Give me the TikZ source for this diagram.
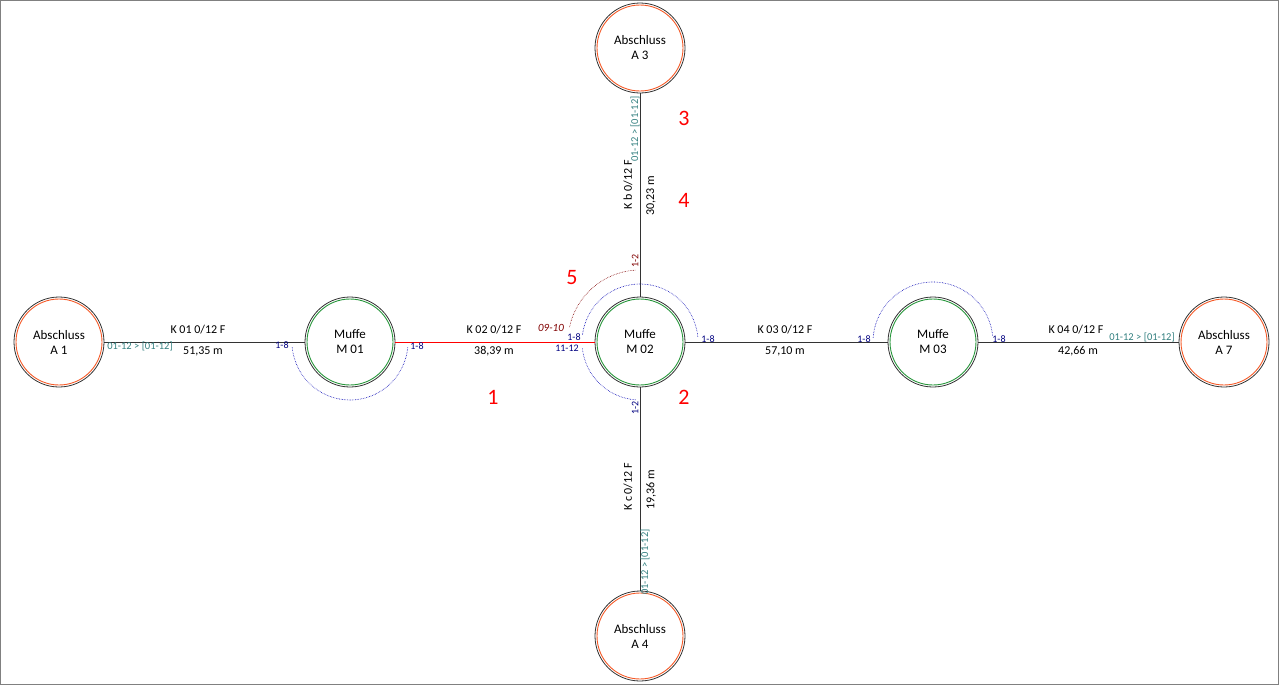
\documentclass[tikz,border=0pt]{standalone}
\usepackage{fontspec}
\setmainfont{Carlito}
\definecolor{absc}{RGB}{245,90,40}
\definecolor{muffc}{RGB}{40,150,60}
\begin{document}
\begin{tikzpicture}[x=1pt,y=1pt,
  term/.style={circle,draw=black!80,line width=0.8pt,minimum size=90pt,inner sep=0pt,align=center,font=\fontsize{13}{15}\selectfont,
    append after command={\pgfextra{\draw[absc,line width=0.9pt] (\tikzlastnode.center) circle (43);}}},
  muffe/.style={circle,draw=black!80,line width=0.8pt,minimum size=90pt,inner sep=0pt,align=center,font=\fontsize{13}{15}\selectfont,
    append after command={\pgfextra{\draw[muffc,line width=0.9pt] (\tikzlastnode.center) circle (43);}}},
  cab/.style={draw=black!80,line width=0.8pt},
  lab/.style={font=\fontsize{12}{14}\selectfont,inner sep=0pt},
  port/.style={font=\fontsize{10}{11}\selectfont,inner sep=0pt,text=blue!50!black},
  conn/.style={font=\fontsize{10.5}{12}\selectfont,inner sep=0pt,text=teal!60!gray},
  splice/.style={draw=blue!70!black,densely dotted,line width=0.6pt},
  rsplice/.style={draw=red!50!black,densely dotted,line width=0.6pt},
  num/.style={font=\fontsize{22}{24}\selectfont,text=red,inner sep=0pt}]
\path[use as bounding box] (0,0) rectangle (1282,-686);
\draw[black!50,line width=1pt] (0.5,-0.5) rectangle (1278,-684);
\node[term] (A1) at (59,-342) {Abschluss\\A 1};
\node[muffe] (M1) at (350,-342) {Muffe\\M 01};
\node[muffe] (M2) at (640,-342) {Muffe\\M 02};
\node[muffe] (M3) at (933,-342) {Muffe\\M 03};
\node[term] (A7) at (1224,-342) {Abschluss\\A 7};
\node[term] (A3) at (640,-48) {Abschluss\\A 3};
\node[term] (A4) at (640,-636) {Abschluss\\A 4};
\draw[cab] (A1) -- (M1);
\draw[red,line width=0.9pt] (M1) -- (M2);
\draw[cab] (M2) -- (M3);
\draw[cab] (M3) -- (A7);
\draw[cab] (A3) -- (M2);
\draw[cab] (M2) -- (A4);
% splices
\draw[splice] (M1.center) ++(185:58) arc[start angle=185,end angle=355,radius=58];
\draw[splice] (M2.center) ++(5:58) arc[start angle=5,end angle=173,radius=58];
\draw[splice] (M2.center) ++(186:58) arc[start angle=186,end angle=266,radius=58];
\draw[rsplice] (M2.center) ++(168:72) arc[start angle=168,end angle=93,radius=72];
\draw[splice] (M3.center) ++(176:60) arc[start angle=176,end angle=5,radius=60];
% labels
\node[lab] (l1) at (198,-330) {K 01 0/12 F};
\node[lab] (l2) at (203,-351) {51,35 m};
\node[conn] (c1) at (140,-346) {01-12 > [01-12]};
\node[port] (p1) at (282,-345) {1-8};
\node[port] (p2) at (417,-346) {1-8};
\node[lab,font=\fontsize{11}{12}\selectfont\itshape,text=red!50!black] (p3) at (551,-328) {09-10};
\node[port] (p4) at (574,-337) {1-8};
\node[port] (p5) at (567,-348.5) {11-12};
\node[port] (p6) at (708,-339) {1-8};
\node[lab] (l3) at (494,-330) {K 02 0/12 F};
\node[lab] (l4) at (494,-351) {38,39 m};
\node[lab] (l5) at (785,-330) {K 03 0/12 F};
\node[lab] (l6) at (785,-351) {57,10 m};
\node[port] (p7) at (864,-339) {1-8};
\node[port] (p8) at (999,-339) {1-8};
\node[lab] (l7) at (1076,-330) {K 04 0/12 F};
\node[lab] (l8) at (1078,-351) {42,66 m};
\node[conn] (c2) at (1142,-337) {01-12 > [01-12]};
% vertical
\node[conn,rotate=90] (c3) at (635,-129) {01-12 > [01-12]};
\node[lab,rotate=90] (l9) at (628,-185) {K b 0/12 F};
\node[lab,rotate=90] (l10) at (651,-196) {30,23 m};
\node[port,rotate=90,text=red!50!black] (p9) at (635,-261) {1-2};
\node[port,rotate=90] (p10) at (635,-408) {1-2};
\node[lab,rotate=90] (l11) at (628,-487) {K c 0/12 F};
\node[lab,rotate=90] (l12) at (651,-490) {19,36 m};
\node[conn,rotate=90] (c4) at (645,-562) {01-12 > [01-12]};
% numbers
\node[num] (n1) at (493,-397) {1};
\node[num] (n2) at (684,-397) {2};
\node[num] (n3) at (684,-118) {3};
\node[num] (n4) at (684,-200) {4};
\node[num] (n5) at (572,-278) {5};
\end{tikzpicture}
\end{document}
